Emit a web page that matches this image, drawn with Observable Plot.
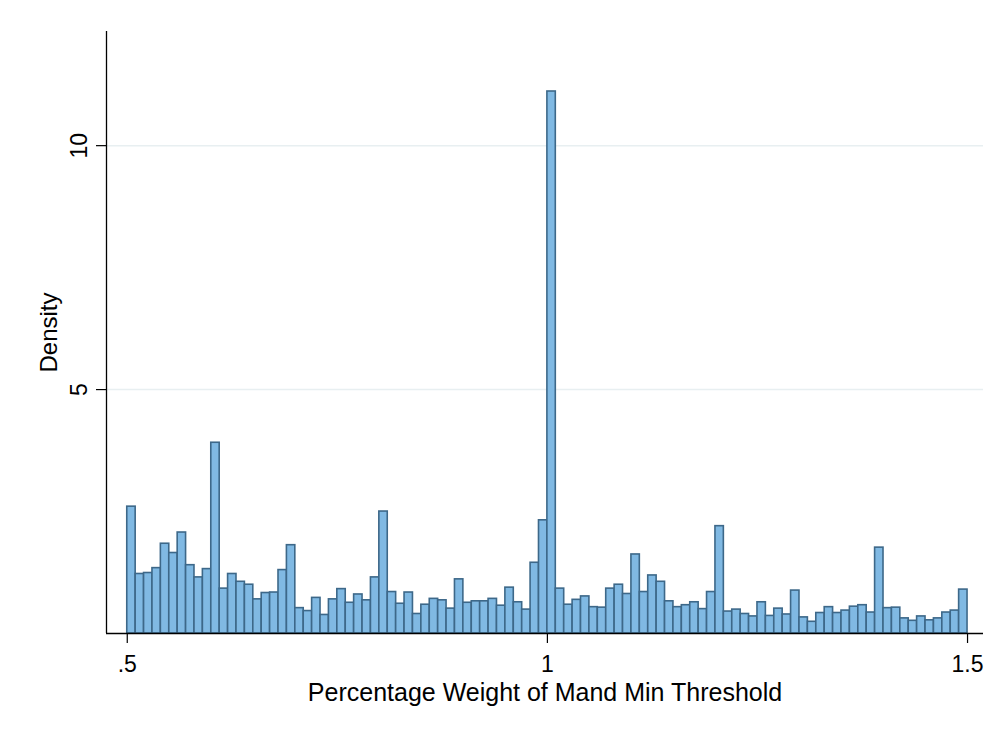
<!DOCTYPE html>
<html>
<head>
<meta charset="utf-8">
<script src="https://cdn.jsdelivr.net/npm/d3@7"></script>
<script src="https://cdn.jsdelivr.net/npm/@observablehq/plot@0.6"></script>
<style>
  html, body { margin: 0; padding: 0; background: #fff; }
  #chart { width: 995px; height: 730px; }
  svg { font-family: "Liberation Sans", Arial, sans-serif; }
</style>
</head>
<body>
<div id="chart"></div>
<script>
// Histogram: density by bin of width 0.01 starting at 0.5
const binStart = 0.5;
const binWidth = 0.01;
const density = [
  2.60, 1.22, 1.24, 1.34, 1.84, 1.65, 2.07, 1.40, 1.15, 1.32,
  3.91, 0.92, 1.22, 1.06, 1.00, 0.70, 0.83, 0.84, 1.30, 1.81,
  0.52, 0.46, 0.73, 0.38, 0.70, 0.91, 0.63, 0.80, 0.68, 1.15,
  2.50, 0.85, 0.61, 0.84, 0.40, 0.59, 0.71, 0.68, 0.51, 1.11,
  0.63, 0.66, 0.66, 0.71, 0.57, 0.94, 0.64, 0.49, 1.45, 2.32,
  11.11, 0.92, 0.59, 0.69, 0.76, 0.54, 0.53, 0.92, 1.00, 0.81,
  1.62, 0.85, 1.19, 1.06, 0.66, 0.54, 0.58, 0.64, 0.50, 0.85,
  2.20, 0.45, 0.49, 0.40, 0.35, 0.64, 0.36, 0.51, 0.39, 0.88,
  0.33, 0.24, 0.42, 0.54, 0.42, 0.47, 0.55, 0.58, 0.43, 1.76,
  0.52, 0.53, 0.31, 0.26, 0.35, 0.27, 0.31, 0.43, 0.47, 0.90
];
const xTicks = [0.5, 1, 1.5];
const xTickLabels = [".5", "1", "1.5"];
const yTicks = [5, 10];
const yTickLabels = ["5", "10"];
const xTitle = "Percentage Weight of Mand Min Threshold";
const yTitle = "Density";

const bars = density.map((v, i) => ({
  x1: +(binStart + i * binWidth).toFixed(4),
  x2: +(binStart + (i + 1) * binWidth).toFixed(4),
  y: v
}));

const xDomain = [0.4753, 1.519];
const yDomain = [0, 12.34];

const chart = Plot.plot({
  width: 995,
  height: 730,
  marginLeft: 106,
  marginRight: 12,
  marginTop: 31,
  marginBottom: 97,
  style: { fontFamily: "Liberation Sans, Arial, sans-serif", background: "#fff" },
  x: { domain: xDomain, axis: null },
  y: { domain: yDomain, axis: null },
  marks: [
    Plot.ruleY(yTicks, { stroke: "#e8eff1", strokeWidth: 1.5 }),
    Plot.rectY(bars, {
      x1: "x1", x2: "x2", y: "y",
      fill: "#80b9e3", stroke: "#3d6889", strokeWidth: 1.6
    }),
    Plot.axisY({ ticks: yTicks, tickSize: 10, tickFormat: () => "", stroke: "#000", strokeWidth: 1.2, label: null }),
    Plot.axisX({ ticks: xTicks, tickSize: 10, tickFormat: () => "", stroke: "#000", strokeWidth: 1.2, label: null }),
    Plot.ruleX([xDomain[0]], { y1: yDomain[0], y2: yDomain[1], stroke: "#000", strokeWidth: 1.3 }),
    Plot.ruleY([0], { stroke: "#000", strokeWidth: 1.3 }),
    Plot.text(yTicks, {
      x: xDomain[0], y: d => d, text: (d, i) => yTickLabels[i],
      rotate: -90, dx: -27, fontSize: 23, fill: "#000", textAnchor: "middle", lineAnchor: "middle"
    }),
    Plot.text(xTicks, {
      x: d => d, y: 0, text: (d, i) => xTickLabels[i],
      dy: 31, fontSize: 23, fill: "#000", textAnchor: "middle", lineAnchor: "middle"
    }),
    Plot.text([yTitle], {
      frameAnchor: "left", text: d => d, rotate: -90, dx: -57,
      fontSize: 24, fill: "#000", textAnchor: "middle", lineAnchor: "middle"
    }),
    Plot.text([xTitle], {
      frameAnchor: "bottom", text: d => d, dy: 59,
      fontSize: 25, fill: "#000", textAnchor: "middle", lineAnchor: "middle"
    })
  ]
});
document.getElementById("chart").appendChild(chart);
</script>
</body>
</html>
